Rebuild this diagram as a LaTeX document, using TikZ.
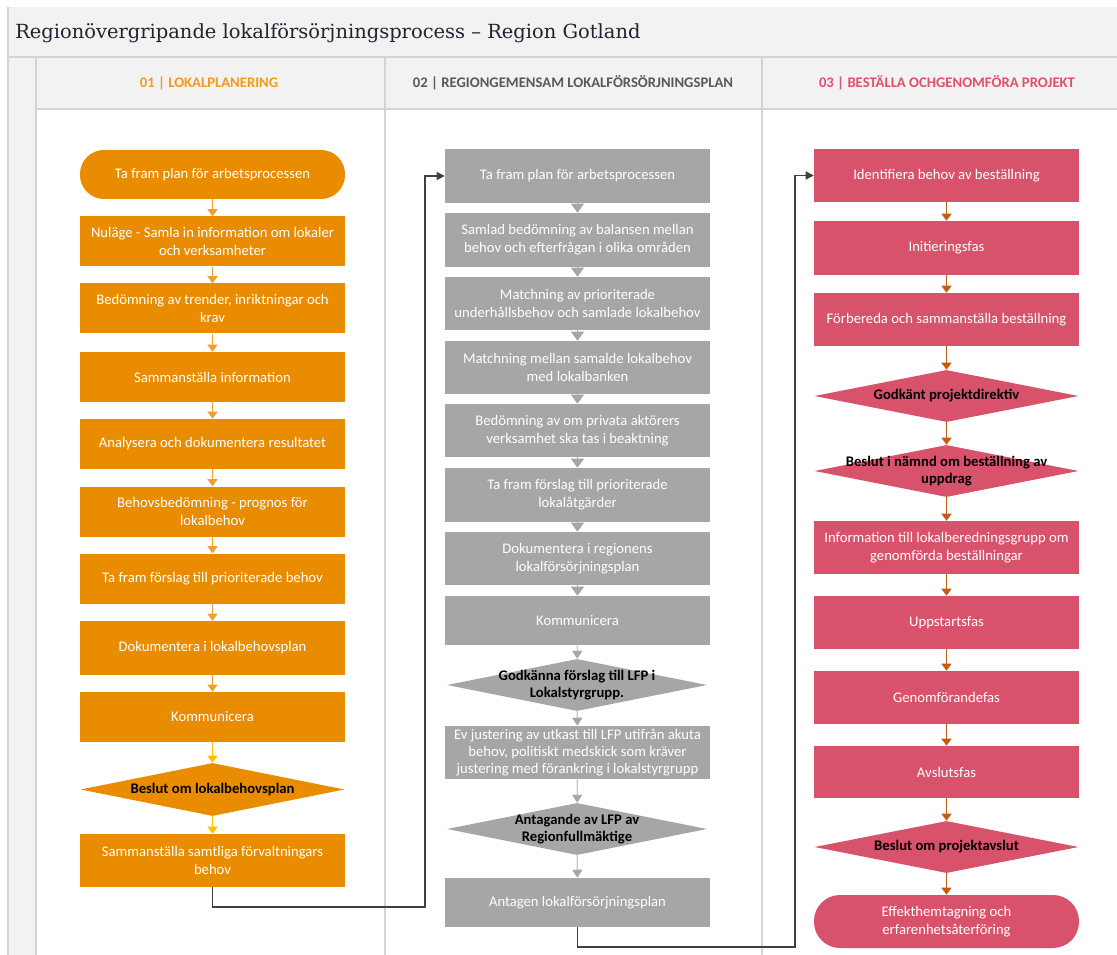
\documentclass[tikz,border=0pt]{standalone}
\usepackage{fontspec}
\setmainfont{Carlito}
\newfontfamily\titlefont{DejaVu Serif}
\usetikzlibrary{arrows.meta,shapes.geometric}
\definecolor{orng}{HTML}{EA8C00}
\definecolor{grayb}{HTML}{A6A6A6}
\definecolor{pink}{HTML}{D9526C}
\definecolor{band}{HTML}{F2F2F2}
\definecolor{gridc}{HTML}{D4D4D4}
\definecolor{arrO}{HTML}{F0A030}
\definecolor{arrY}{HTML}{FFC000}
\definecolor{arrR}{HTML}{C55A11}
\definecolor{arrG}{HTML}{CACACA}
\definecolor{linkc}{HTML}{404040}
\definecolor{hdO}{HTML}{F29B16}
\definecolor{hdG}{HTML}{595959}
\definecolor{hdP}{HTML}{E0506E}
\definecolor{titc}{HTML}{1E2530}
\tikzset{
  box/.style={rectangle, minimum width=198.75pt, minimum height=37.5pt, inner sep=0pt, align=center, text=white, font=\fontsize{11}{13.5}\selectfont},
  obox/.style={box, fill=orng},
  gbox/.style={box, fill=grayb},
  pbox/.style={box, fill=pink},
  term/.style={rounded corners=18pt},
  dia/.style={diamond, minimum width=198pt, minimum height=39.75pt, inner sep=0pt},
  diatxt/.style={align=center, font=\bfseries\fontsize{11}{13}\selectfont, text=black, inner sep=0pt},
  hdr/.style={font=\bfseries\fontsize{11}{13}\selectfont, inner sep=0pt},
  grid/.style={draw=gridc, line width=1.5pt},
  oarr/.style={draw=arrO, line width=1pt, -{Triangle[width=7.5pt,length=5.25pt]}},
  yarr/.style={draw=arrY, line width=1pt, -{Triangle[width=7.5pt,length=5.25pt]}},
  rarr/.style={draw=arrR, line width=1pt, -{Triangle[width=7.5pt,length=5.25pt]}},
  notch/.style={draw=grayb, line width=0.75pt, -{Triangle[width=9.75pt,length=6.75pt]}},
  garr/.style={draw=arrG, line width=1pt, -{Triangle[width=7.5pt,length=6pt,color=grayb]}},
  link/.style={draw=linkc, line width=1pt, -{Triangle[width=6pt,length=6pt]}},
}
\begin{document}
\begin{tikzpicture}[x=0.75pt,y=-0.75pt]
\useasboundingbox (0,0) rectangle (1117,955);
% background panel
\fill[white] (0,0) rectangle (1117,955);
\fill[band] (8,7) rectangle (1117,955);
\fill[white] (36,109) rectangle (1117,955);
\draw[grid] (8,7) -- (8,955);
\draw[grid] (8,57) -- (1117,57);
\draw[grid] (36,57) -- (36,955);
\draw[grid] (36,109) -- (1117,109);
\draw[grid] (385,57) -- (385,955);
\draw[grid] (762,57) -- (762,955);
% title and headers
\node[anchor=base west, inner sep=0pt, font=\titlefont\fontsize{14.6}{17}\selectfont, text=titc] (title) at (15,39) {Regionövergripande lokalförsörjningsprocess – Region Gotland};
\node[hdr, text=hdO] (h1) at (209,83) {01 | LOKALPLANERING};
\node[hdr, text=hdG] (h2) at (573,83) {02 | REGIONGEMENSAM LOKALFÖRSÖRJNINGSPLAN};
\node[hdr, text=hdP] (h3) at (947,83) {03 | BESTÄLLA OCHGENOMFÖRA PROJEKT};
% column 1
\node[obox, term, minimum height=36.75pt] (c1a) at (212.5,174.5) {Ta fram plan för arbetsprocessen};
\node[obox] (c1b) at (212.5,241.5) {Nuläge - Samla in information om lokaler\\och verksamheter};
\node[obox] (c1c) at (212.5,308.5) {Bedömning av trender, inriktningar och\\krav};
\node[obox] (c1d) at (212.5,377) {Sammanställa information};
\node[obox] (c1e) at (212.5,444) {Analysera och dokumentera resultatet};
\node[obox] (c1f) at (212.5,511.5) {Behovsbedömning - prognos för\\lokalbehov};
\node[obox] (c1g) at (212.5,578.5) {Ta fram förslag till prioriterade behov};
\node[obox, minimum height=40.5pt] (c1h) at (212.5,648) {Dokumentera i lokalbehovsplan};
\node[obox] (c1i) at (212.5,717) {Kommunicera};
\node[dia, fill=orng] (c1d1) at (212.5,789.5) {};
\node[diatxt] (c1d1t) at (c1d1) {Beslut om lokalbehovsplan};
\node[obox, minimum height=39.75pt] (c1k) at (212.5,860.5) {Sammanställa samtliga förvaltningars\\behov};
\draw[oarr] (c1a) -- (c1b);
\draw[oarr] (c1b) -- (c1c);
\draw[oarr] (c1c) -- (c1d);
\draw[oarr] (c1d) -- (c1e);
\draw[oarr] (c1e) -- (c1f);
\draw[oarr] (c1f) -- (c1g);
\draw[oarr] (c1g) -- (c1h);
\draw[oarr] (c1h) -- (c1i);
\draw[yarr] (c1i) -- (c1d1);
\draw[yarr] (c1d1) -- (c1k);
% column 2
\node[gbox, minimum height=40.5pt] (c2a) at (577.5,176) {Ta fram plan för arbetsprocessen};
\node[gbox, minimum height=40.5pt] (c2b) at (577.5,240) {Samlad bedömning av balansen mellan\\behov och efterfrågan i olika områden};
\node[gbox, minimum height=39.75pt] (c2c) at (577.5,303.5) {Matchning av prioriterade\\underhållsbehov och samlade lokalbehov};
\node[gbox, minimum height=39.75pt] (c2d) at (577.5,367.5) {Matchning mellan samalde lokalbehov\\med lokalbanken};
\node[gbox, minimum height=39.75pt] (c2e) at (577.5,430.5) {Bedömning av om privata aktörers\\verksamhet ska tas i beaktning};
\node[gbox, minimum height=40.5pt] (c2f) at (577.5,495) {Ta fram förslag till prioriterade\\lokalåtgärder};
\node[gbox, minimum height=39.75pt] (c2g) at (577.5,558.5) {Dokumentera i regionens\\lokalförsörjningsplan};
\node[gbox, minimum height=36.75pt] (c2h) at (577.5,620.5) {Kommunicera};
\node[dia, fill=grayb, minimum width=195pt, minimum height=39pt] (c2d1) at (577,685) {};
\node[diatxt] (c2d1t) at (c2d1) {Godkänna förslag till LFP i\\Lokalstyrgrupp.};
\node[gbox, minimum height=39.75pt, font=\fontsize{11}{13}\selectfont] (c2i) at (577.5,752.5) {Ev justering av utkast till LFP utifrån akuta\\behov, politiskt medskick som kräver\\justering med förankring i lokalstyrgrupp};
\node[dia, fill=grayb, minimum width=195pt, minimum height=39pt] (c2d2) at (577,829) {};
\node[diatxt] (c2d2t) at (c2d2) {Antagande av LFP av\\Regionfullmäktige};
\node[gbox, minimum height=36.75pt] (c2l) at (577.5,902.5) {Antagen lokalförsörjningsplan};
\draw[notch] (c2a) -- (c2b);
\draw[notch] (c2b) -- (c2c);
\draw[notch] (c2c) -- (c2d);
\draw[notch] (c2d) -- (c2e);
\draw[notch] (c2e) -- (c2f);
\draw[notch] (c2f) -- (c2g);
\draw[notch] (c2g) -- (c2h);
\draw[garr] (c2h) -- (c2d1);
\draw[garr] (c2d1) -- (c2i);
\draw[garr] (c2i) -- (c2d2);
\draw[garr] (c2d2) -- (c2l);
% column 3
\node[pbox, minimum height=39.75pt] (c3a) at (946.5,175.5) {Identifiera behov av beställning};
\node[pbox, minimum height=40.5pt] (c3b) at (946.5,248) {Initieringsfas};
\node[pbox, minimum height=39.75pt] (c3c) at (946.5,319.5) {Förbereda och sammanställa beställning};
\node[dia, fill=pink, minimum height=39pt] (c3d1) at (946.5,396) {};
\node[diatxt] (c3d1t) at (c3d1) {Godkänt projektdirektiv};
\node[dia, fill=pink, minimum height=39pt] (c3d2) at (946.5,471) {};
\node[diatxt] (c3d2t) at (c3d2) {Beslut i nämnd om beställning av\\uppdrag};
\node[pbox, minimum height=39.75pt] (c3e) at (946.5,547.5) {Information till lokalberedningsgrupp om\\genomförda beställningar};
\node[pbox, minimum height=39.75pt] (c3f) at (946.5,622.5) {Uppstartsfas};
\node[pbox, minimum height=39.75pt] (c3g) at (946.5,697.5) {Genomförandefas};
\node[pbox, minimum height=39pt] (c3h) at (946.5,772) {Avslutsfas};
\node[dia, fill=pink, minimum height=39pt] (c3d3) at (946.5,847) {};
\node[diatxt] (c3d3t) at (c3d3) {Beslut om projektavslut};
\node[pbox, minimum height=39.75pt, rounded corners=19.5pt] (c3t) at (946.5,921.5) {Effekthemtagning och\\erfarenhetsåterföring};
\draw[rarr] (c3a) -- (c3b);
\draw[rarr] (c3b) -- (c3c);
\draw[rarr] (c3c) -- (c3d1);
\draw[rarr] (c3d1) -- (c3d2);
\draw[rarr] (c3d2) -- (c3e);
\draw[rarr] (c3e) -- (c3f);
\draw[rarr] (c3f) -- (c3g);
\draw[rarr] (c3g) -- (c3h);
\draw[rarr] (c3h) -- (c3d3);
\draw[rarr] (c3d3) -- (c3t);
% cross-column links
\coordinate (j1) at (425,907);
\coordinate (j2) at (795,947);
\draw[link] (c1k.south) |- (j1) |- (c2a.west);
\draw[link] (c2l.south) |- (j2) |- (c3a.west);
\end{tikzpicture}
\end{document}
